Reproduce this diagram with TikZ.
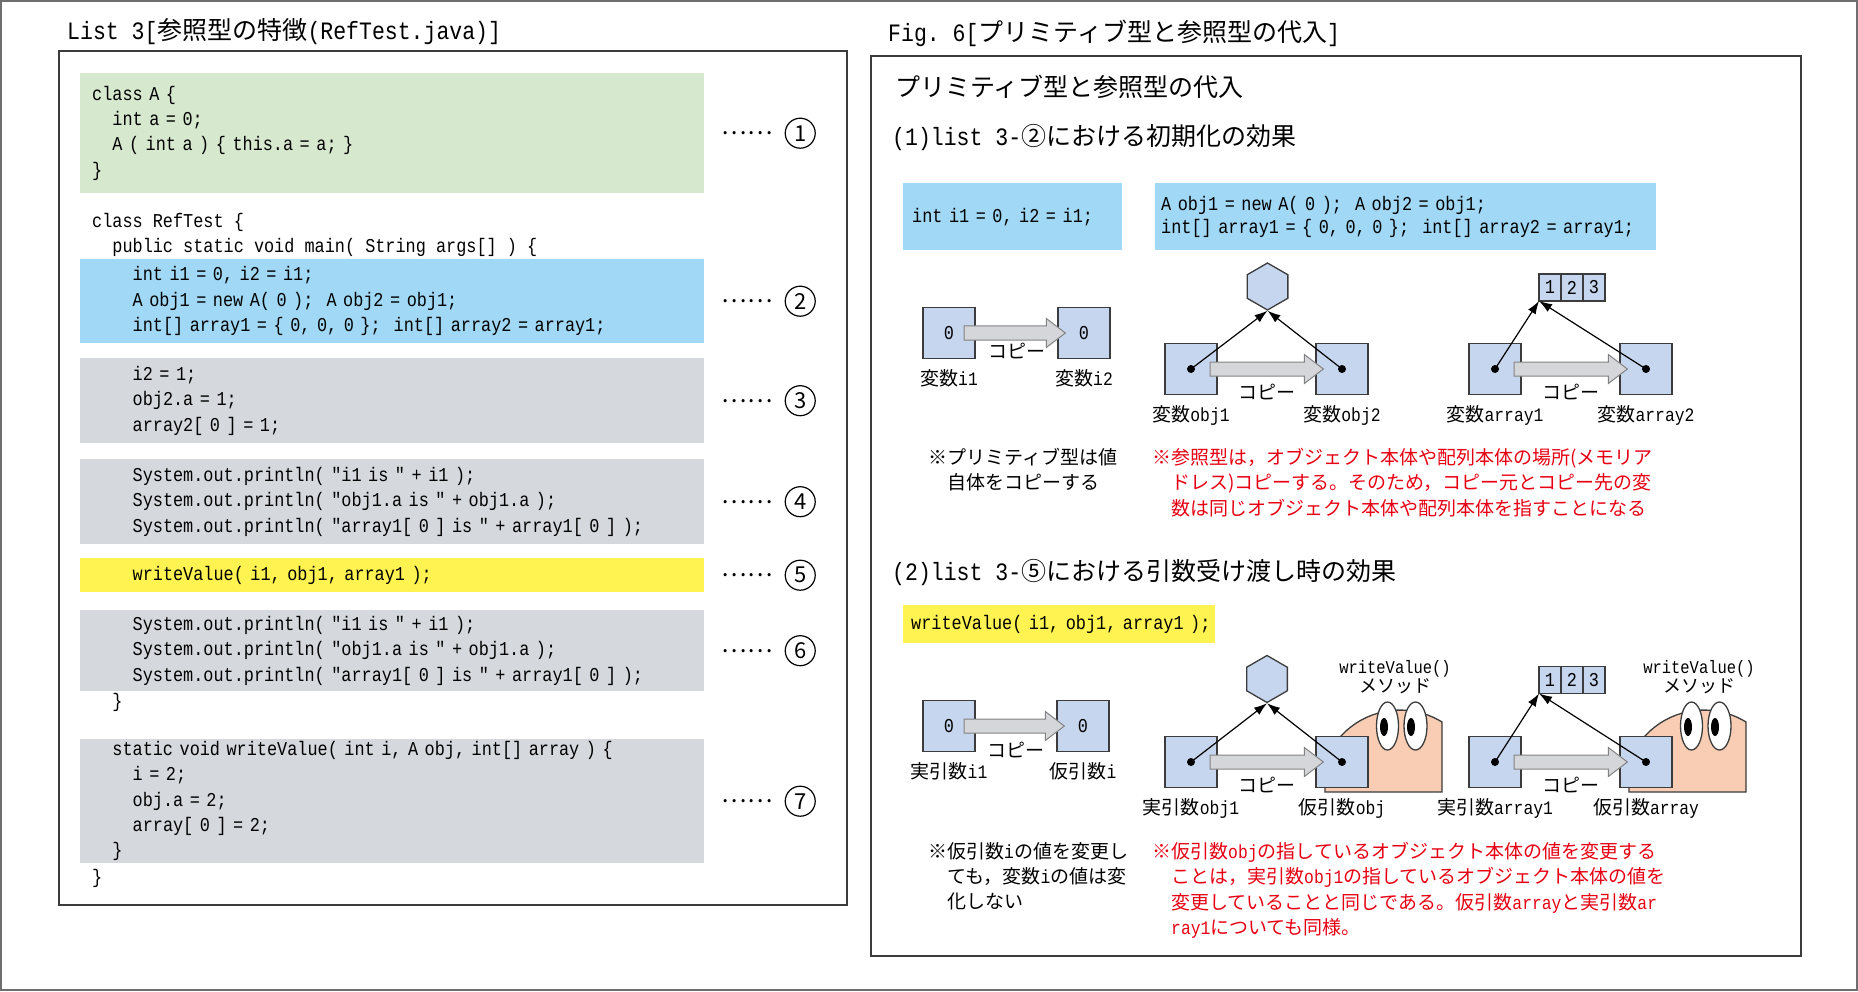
\documentclass[tikz,border=0pt]{standalone}
\usepackage{fontspec}
\setmainfont{Noto Sans CJK JP}
\setmonofont{Liberation Mono}[FakeStretch=0.86]
\usepackage{tikz}
\usetikzlibrary{positioning}
\usetikzlibrary{calc}
\usetikzlibrary{shapes.geometric}
\usetikzlibrary{arrows.meta}
\usepackage{xcolor}

\definecolor{codegreen}{RGB}{214,233,206}
\definecolor{codeblue}{RGB}{160,216,245}
\definecolor{codegray}{RGB}{213,216,221}
\definecolor{codeyellow}{RGB}{255,243,82}
\definecolor{varfill}{RGB}{198,214,238}
\definecolor{copyfill}{RGB}{212,214,218}
\definecolor{facefill}{RGB}{248,205,180}
\definecolor{notered}{RGB}{230,0,18}
\definecolor{boxline}{RGB}{60,60,60}

% monospaced blanks as wide as one character
\newcommand{\fixspace}{\fontdimen2\font=\fontcharwd\font`x\relax\fontdimen3\font=0pt\relax\fontdimen4\font=0pt\relax}
\newcommand{\codefont}{\ttfamily\fontsize{19.6}{25.3}\selectfont\fixspace}
\newcommand{\tx}[1]{{\ttfamily\fixspace#1}}
\newcommand{\tabA}{\hphantom{xx}}
\newcommand{\tabB}{\hphantom{xxxx}}

\tikzset{
  codetxt/.style={font=\codefont, inner sep=0pt},
  codeblock/.style={codetxt, anchor=north west, text width=600pt, inner xsep=12pt, minimum height=#1, align=left},
  leader/.style={font=\fontsize{24}{24}\selectfont, inner sep=0pt},
  marker/.style={circle, draw, line width=1.2pt, minimum size=30pt, inner sep=0pt, font=\fontsize{22}{22}\selectfont},
  titletxt/.style={anchor=west, inner sep=0pt, font=\fontsize{25}{30}\selectfont},
  heading/.style={anchor=west, inner sep=0pt, font=\fontsize{25}{30}\selectfont},
  outerframe/.style={draw={rgb,255:red,110;green,110;blue,110}, line width=2pt},
  panel/.style={draw=boxline, line width=1.5pt},
  varbox/.style={draw=boxline, fill=varfill, line width=1.3pt, minimum width=52pt, minimum height=51pt, inner sep=0pt, font=\codefont},
  objhex/.style={regular polygon, regular polygon sides=6, shape border rotate=30, draw=boxline, fill=varfill, line width=1.3pt, minimum size=47pt, inner sep=0pt},
  cell/.style={draw=boxline, fill=varfill, line width=1.3pt, minimum width=22pt, minimum height=27pt, inner sep=0pt, outer sep=0pt, font=\codefont},
  lbl/.style={font=\fontsize{19}{19}\selectfont, inner sep=0pt},
  copylbl/.style={font=\fontsize{19}{19}\selectfont, inner sep=0pt},
  copyarrow/.style={draw={rgb,255:red,130;green,130;blue,130}, fill=copyfill, line width=1pt},
  ptr/.style={-{Latex[length=13pt,width=9pt]}, line width=1.2pt},
  ptrdot/.style={circle, fill, inner sep=0pt, minimum size=8pt},
  note/.style={anchor=north west, align=left, inner sep=0pt, font=\fontsize{19}{25.3}\selectfont},
  method/.style={align=center, inner sep=0pt, font=\fontsize{18}{16}\selectfont},
  faceline/.style={draw=boxline, line width=1.3pt},
  methodface/.pic={
    \draw[faceline, fill=facefill] (100,30) -- (100,-40) arc[start angle=-58.3, end angle=-159.5, radius=80] -- (-17,30) -- cycle;
    \draw[faceline, fill=white] (45.5,-36) ellipse [x radius=11, y radius=24];
    \fill (42,-35) ellipse [x radius=4, y radius=9];
    \draw[faceline, fill=white] (73.5,-36) ellipse [x radius=11.5, y radius=24];
    \fill (69,-35) ellipse [x radius=4, y radius=9];
  }
}

% copy arrow from one variable box into the next
\newcommand{\copyarrow}[3]{%
  \draw[copyarrow] ($(#1.center)+(#3,-7)$) -- ($(#2.west)+(-11,-7)$) -- ($(#2.west)+(-11,-14.5)$)
    -- ($(#2.west)+(8,0)$) -- ($(#2.west)+(-11,14.5)$) -- ($(#2.west)+(-11,7)$)
    -- ($(#1.center)+(#3,7)$) -- cycle;}

\begin{document}
\begin{tikzpicture}[x=1pt, y=-1pt]
      \useasboundingbox (0,0) rectangle (1858,992);
      \draw[outerframe] (1,1) rectangle (1857,990);

      % List 3
      \node[titletxt] (listtitle) at (67,32) {\tx{List 3[}参照型の特徴\tx{(RefTest.java)]}};
      \draw[panel] (59,51) rectangle (847,905);

      \node[codeblock=120pt, fill=codegreen] (blk1) at (80,73) {class A \{\\ \tabA int a = 0;\\ \tabA A ( int a ) \{ this.a = a; \}\\ \}};
      \node[codetxt, anchor=base west] (clsline) at (92,228) {class RefTest \{};
      \node[codetxt, anchor=base west] (mainline) at (92,253) {\tabA public static void main( String args[] ) \{};
      \node[codeblock=84pt, fill=codeblue] (blk2) at (80,259) {\tabB int i1 = 0, i2 = i1;\\ \tabB A obj1 = new A( 0 );~~A obj2 = obj1;\\ \tabB int[] array1 = \{ 0, 0, 0 \};~~int[] array2 = array1;};
      \node[codeblock=85pt, fill=codegray] (blk3) at (80,358) {\tabB i2 = 1;\\ \tabB obj2.a = 1;\\ \tabB array2[ 0 ] = 1;};
      \node[codeblock=85pt, fill=codegray] (blk4) at (80,459) {\tabB System.out.println( "i1 is " + i1 );\\ \tabB System.out.println( "obj1.a is " + obj1.a );\\ \tabB System.out.println( "array1[ 0 ] is " + array1[ 0 ] );};
      \node[codeblock=34pt, fill=codeyellow] (blk5) at (80,558) {\tabB writeValue( i1, obj1, array1 );};
      \node[codeblock=81pt, fill=codegray] (blk6) at (80,610) {\tabB System.out.println( "i1 is " + i1 );\\ \tabB System.out.println( "obj1.a is " + obj1.a );\\ \tabB System.out.println( "array1[ 0 ] is " + array1[ 0 ] );};
      \node[codetxt, anchor=base west] (endmain) at (92,707) {\tabA \}};
      \node[codeblock=124pt, fill=codegray] (blk7) at (80,739) {\tabA static void writeValue( int i, A obj, int[] array ) \{\\ \tabB i = 2;\\ \tabB obj.a = 2;\\ \tabB array[ 0 ] = 2;\\ \tabA \}};
      \node[codetxt, anchor=base west] (endcls) at (92,883) {\}};

      \node[leader, right=17pt of blk1] (dots1) {……};
      \node[marker, right=12pt of dots1] (m1) {1};
      \node[leader, right=17pt of blk2] (dots2) {……};
      \node[marker, right=12pt of dots2] (m2) {2};
      \node[leader, right=17pt of blk3] (dots3) {……};
      \node[marker, right=12pt of dots3] (m3) {3};
      \node[leader, right=17pt of blk4] (dots4) {……};
      \node[marker, right=12pt of dots4] (m4) {4};
      \node[leader, right=17pt of blk5] (dots5) {……};
      \node[marker, right=12pt of dots5] (m5) {5};
      \node[leader, right=17pt of blk6] (dots6) {……};
      \node[marker, right=12pt of dots6] (m6) {6};
      \node[leader, right=17pt of blk7] (dots7) {……};
      \node[marker, right=12pt of dots7] (m7) {7};

      % Fig. 6
      \node[titletxt] (figtitle) at (888,33) {\tx{Fig. 6[}プリミティブ型と参照型の代入\tx{]}};
      \draw[panel] (871,56) rectangle (1801,956);
      \node[heading] (figname) at (895,87) {プリミティブ型と参照型の代入};

      % (1) initialisation
      \node[heading] (sec1) at (892,138) {\tx{(1)list 3-}②における初期化の効果};
      \node[codetxt, anchor=north west, align=left, text width=201pt, inner xsep=9pt, minimum height=67pt, fill=codeblue] (snip1) at (903,183) {\mbox{int i1 = 0, i2 = i1;}};
      \node[codetxt, anchor=north west, align=left, text width=489pt, inner xsep=6pt, minimum height=67pt, fill=codeblue, font=\ttfamily\fontsize{19.6}{23}\selectfont\fixspace] (snip2) at (1155,183) {\mbox{A obj1 = new A( 0 );~~A obj2 = obj1;}\\ \mbox{int[] array1 = \{ 0, 0, 0 \};~~int[] array2 = array1;}};

      \node[varbox] (vi1) at (949,333) {0};
      \node[varbox] (vi2) at (1084,333) {0};
      \copyarrow{vi1}{vi2}{15}
      \node[copylbl] (cp1) at ($(vi1)!0.5!(vi2)+(0,18)$) {コピー};
      \node[lbl, below=10pt of vi1] (lvi1) {変数\tx{i1}};
      \node[lbl, below=10pt of vi2] (lvi2) {変数\tx{i2}};

      \node[objhex] (h1) at (1267.5,286.5) {};
      \node[varbox] (vobj1) at (1191,369) {};
      \node[varbox] (vobj2) at (1342,369) {};
      \copyarrow{vobj1}{vobj2}{19}
      \node[ptrdot] (p1) at (vobj1) {};
      \node[ptrdot] (p2) at (vobj2) {};
      \draw[ptr] (p1.center) -- (h1.south);
      \draw[ptr] (p2.center) -- (h1.south);
      \node[copylbl] (cp2) at ($(vobj1)!0.5!(vobj2)+(0,23)$) {コピー};
      \node[lbl, below=10pt of vobj1] (lvobj1) {変数\tx{obj1}};
      \node[lbl, below=10pt of vobj2] (lvobj2) {変数\tx{obj2}};

      \node[cell] (c11) at (1550,287.5) {1};
      \node[cell, right=0pt of c11] (c12) {2};
      \node[cell, right=0pt of c12] (c13) {3};
      \node[varbox] (varr1) at (1495,369) {};
      \node[varbox] (varr2) at (1646,369) {};
      \copyarrow{varr1}{varr2}{19}
      \node[ptrdot] (p3) at (varr1) {};
      \node[ptrdot] (p4) at (varr2) {};
      \draw[ptr] (p3.center) -- (c11.south west);
      \draw[ptr] (p4.center) -- (c11.south west);
      \node[copylbl] (cp3) at ($(varr1)!0.5!(varr2)+(0,23)$) {コピー};
      \node[lbl, below=10pt of varr1] (lvarr1) {変数\tx{array1}};
      \node[lbl, below=10pt of varr2] (lvarr2) {変数\tx{array2}};

      \node[note] (note1) at (928,448) {※プリミティブ型は値\\\hphantom{※}自体をコピーする};
      \node[note, text=notered] (note2) at (1152,448) {※参照型は，オブジェクト本体や配列本体の場所(メモリア\\\hphantom{※}ドレス)コピーする。そのため，コピー元とコピー先の変\\\hphantom{※}数は同じオブジェクト本体や配列本体を指すことになる};

      % (2) argument passing
      \node[heading] (sec2) at (892,573) {\tx{(2)list 3-}⑤における引数受け渡し時の効果};
      \node[codetxt, anchor=north west, align=left, text width=296pt, inner xsep=8pt, minimum height=38pt, fill=codeyellow] (snip3) at (903,605) {\mbox{writeValue( i1, obj1, array1 );}};

      \node[varbox] (ri1) at (949,726) {0};
      \node[varbox] (fi) at (1083,726) {0};
      \copyarrow{ri1}{fi}{15}
      \node[copylbl] (cp4) at ($(ri1)!0.5!(fi)+(0,24)$) {コピー};
      \node[lbl, below=10pt of ri1] (lri1) {実引数\tx{i1}};
      \node[lbl, below=10pt of fi] (lfi) {仮引数\tx{i}};

      \coordinate (fobjpos) at (1342,762);
      \coordinate (farrpos) at (1646,762);
      \pic at (fobjpos) {methodface};
      \pic at (farrpos) {methodface};
      \node[method] (wv1) at ($(fobjpos)+(53,-85)$) {\tx{writeValue()}\\メソッド};
      \node[method] (wv2) at ($(farrpos)+(53,-85)$) {\tx{writeValue()}\\メソッド};

      \node[objhex] (h2) at (1267,679) {};
      \node[varbox] (robj1) at (1191,762) {};
      \node[varbox] (fobj) at (fobjpos) {};
      \copyarrow{robj1}{fobj}{19}
      \node[ptrdot] (p5) at (robj1) {};
      \node[ptrdot] (p6) at (fobj) {};
      \draw[ptr] (p5.center) -- (h2.south);
      \draw[ptr] (p6.center) -- (h2.south);
      \node[copylbl] (cp5) at ($(robj1)!0.5!(fobj)+(0,23)$) {コピー};
      \node[lbl, below=10pt of robj1] (lrobj1) {実引数\tx{obj1}};
      \node[lbl, below=10pt of fobj] (lfobj) {仮引数\tx{obj}};

      \node[cell] (c21) at (1550,680) {1};
      \node[cell, right=0pt of c21] (c22) {2};
      \node[cell, right=0pt of c22] (c23) {3};
      \node[varbox] (rarr1) at (1495,762) {};
      \node[varbox] (farr) at (farrpos) {};
      \copyarrow{rarr1}{farr}{19}
      \node[ptrdot] (p7) at (rarr1) {};
      \node[ptrdot] (p8) at (farr) {};
      \draw[ptr] (p7.center) -- (c21.south west);
      \draw[ptr] (p8.center) -- (c21.south west);
      \node[copylbl] (cp6) at ($(rarr1)!0.5!(farr)+(0,23)$) {コピー};
      \node[lbl, below=10pt of rarr1] (lrarr1) {実引数\tx{array1}};
      \node[lbl, below=10pt of farr] (lfarr) {仮引数\tx{array}};

      \node[note] (note3) at (928,842) {※仮引数\tx{i}の値を変更し\\\hphantom{※}ても，変数\tx{i}の値は変\\\hphantom{※}化しない};
      \node[note, text=notered] (note4) at (1152,842) {※仮引数\tx{obj}の指しているオブジェクト本体の値を変更する\\\hphantom{※}ことは，実引数\tx{obj1}の指しているオブジェクト本体の値を\\\hphantom{※}変更していることと同じである。仮引数\tx{array}と実引数\tx{ar}\\\hphantom{※}\tx{ray1}についても同様。};
    \end{tikzpicture}
\end{document}
